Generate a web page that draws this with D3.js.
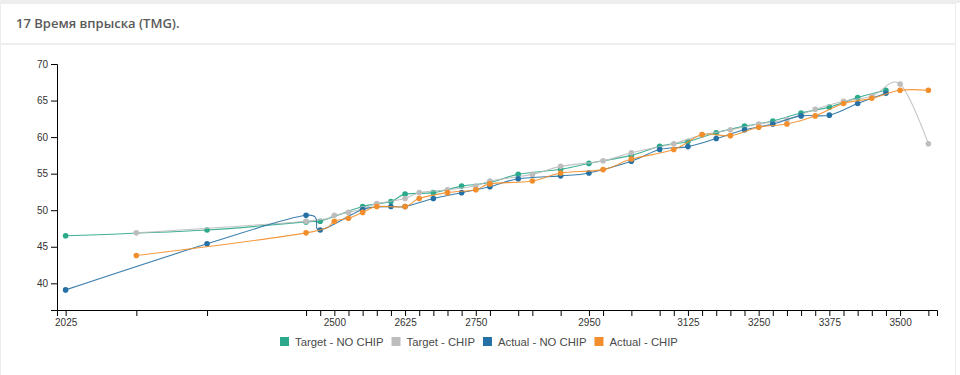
<!DOCTYPE html>
<html>
<head>
<meta charset="utf-8">
<script src="https://cdn.jsdelivr.net/npm/d3@7"></script>
<style>
  body { margin: 0; background: #fff; }
  .axis text { font-family: "Liberation Sans", Arial, sans-serif; font-size: 10px; fill: #333; }
  .axis path, .axis line { stroke: #000; }
</style>
</head>
<body>
<div class="chart"></div>
<script>
(function () {

    // rpm values (x) for each pair of series
    var rpmNoChip = [2025, 2275, 2450, 2475, 2550, 2600, 2625, 2675, 2725, 2775, 2825, 2900,
                     2950, 3025, 3075, 3125, 3175, 3225, 3275, 3325, 3375, 3425, 3475];
    var rpmChip = [2150, 2450, 2500, 2525, 2550, 2575, 2625, 2650, 2700, 2750, 2775, 2850, 2900,
                   2975, 3025, 3100, 3150, 3200, 3250, 3300, 3350, 3400, 3450, 3500, 3550];

    var targetNoChip = [46.5, 47.3, 48.4, 48.5, 50.5, 51.2, 52.2, 52.4, 53.3, 53.8, 54.9, 55.6,
                        56.4, 57.5, 58.75, 59.4, 60.6, 61.5, 62.2, 63.3, 64.1, 65.4, 66.4];
    var actualNoChip = [39.1, 45.4, 49.3, 47.3, 50.1, 50.5, 50.5, 51.6, 52.4, 53.2, 54.3, 54.7,
                        55.1, 56.7, 58.3, 58.7, 59.8, 61.0, 61.8, 62.9, 63.0, 64.6, 66.0];
    var targetChip = [46.9, 48.5, 49.3, 49.7, 50.2, 50.9, 51.6, 52.4, 52.8, 53.3, 54.0, 54.9, 56.0,
                      56.75, 57.85, 59.1, 60.3, 61.0, 61.8, 62.4, 63.8, 64.9, 65.6, 67.25, 59.1];
    var actualChip = [43.8, 46.9, 48.5, 48.9, 49.7, 50.5, 50.5, 51.6, 52.4, 52.8, 53.6, 54.0, 55.1,
                      55.55, 57.0, 58.3, 60.35, 60.2, 61.35, 61.8, 62.9, 64.6, 65.3, 66.4, 66.4];

    var seriesNames = ["Target - NO CHIP", "Target - CHIP", "Actual - NO CHIP", "Actual - CHIP"];
    var xTicks = [2025, 2150, 2275, 2450, 2475, 2500, 2525, 2550, 2575, 2600, 2625, 2650, 2675, 2700,
                  2725, 2750, 2775, 2825, 2850, 2900, 2950, 2975, 3025, 3075, 3100, 3125, 3150, 3175,
                  3200, 3225, 3250, 3275, 3300, 3325, 3350, 3375, 3400, 3425, 3450, 3475, 3500, 3550];
    var yTicks = [40, 45, 50, 55, 60, 65, 70];

    var colors = ["#2aa98b", "#bdbdbd", "#2571a5", "#f28e2b"];

    var series = [
        { name: seriesNames[0], xs: rpmNoChip, ys: targetNoChip },
        { name: seriesNames[1], xs: rpmChip, ys: targetChip },
        { name: seriesNames[2], xs: rpmNoChip, ys: actualNoChip },
        { name: seriesNames[3], xs: rpmChip, ys: actualChip }
    ];
    series.forEach(function (s, i) {
        s.color = colors[i];
        s.points = s.xs.map(function (x, j) { return { x: x, y: s.ys[j] }; });
    });

    var W = 960, H = 375;

    var svg = d3.select(".chart")
      .append("svg")
        .attr("width", W)
        .attr("height", H)
        .style("display", "block");

    // panel frame
    svg.append("rect")
        .attr("x", 0).attr("y", 0)
        .attr("width", W).attr("height", 3)
        .style("fill", "#eeeeee");
    svg.append("rect")
        .attr("x", 0.5).attr("y", 3.5)
        .attr("width", 955).attr("height", 372)
        .style("fill", "#fff")
        .style("stroke", "#ececec");
    svg.append("line")
        .attr("x1", 1).attr("x2", 956)
        .attr("y1", 44).attr("y2", 44)
        .style("stroke", "#eeeeee")
        .style("stroke-width", 2);

    svg.append("text")
        .text("17 Время впрыска (TMG).")
        .attr("x", 16)
        .attr("y", 28)
        .attr("font-family", "'Open Sans', sans-serif")
        .attr("font-size", "13px")
        .attr("font-weight", 600)
        .attr("fill", "#5a5a5a");

    // plot area
    var left = 57, right = 937, top = 64, bottom = 310;

    var allX = rpmNoChip.concat(rpmChip);
    var xMin = d3.min(allX), xMax = d3.max(allX);
    var pad = (xMax - xMin) * 0.01;

    var x = d3.scaleLinear()
        .domain([xMin - pad, xMax + pad])
        .range([left, right]);

    var y = d3.scaleLinear()
        .domain([36.35, 70])
        .range([bottom, top]);

    svg.append("g")
        .attr("class", "axis")
        .attr("transform", "translate(0," + bottom + ")")
        .call(d3.axisBottom(x)
            .tickValues(xTicks)
            .tickFormat(function (d, i) { return i % 5 === 0 ? d : ""; }));

    svg.append("g")
        .attr("class", "axis")
        .attr("transform", "translate(" + left + ",0)")
        .call(d3.axisLeft(y).tickValues(yTicks));

    var line = d3.line()
        .x(function (d) { return x(d.x); })
        .y(function (d) { return y(d.y); })
        .curve(d3.curveCardinal);

    series.forEach(function (s) {
        var g = svg.append("g");
        g.append("path")
            .datum(s.points)
            .attr("d", line)
            .style("fill", "none")
            .style("stroke", s.color)
            .style("stroke-width", 1.1)
            .style("stroke-opacity", 0.9);
        g.selectAll("circle")
            .data(s.points)
            .enter()
            .append("circle")
              .attr("cx", function (d) { return x(d.x); })
              .attr("cy", function (d) { return y(d.y); })
              .attr("r", 2.8)
              .style("fill", s.color);
    });

    // legend
    var legend = svg.append("g");
    var lx = 280;
    series.forEach(function (s) {
        legend.append("rect")
            .attr("x", lx).attr("y", 337)
            .attr("width", 9).attr("height", 9)
            .style("fill", s.color);
        var t = legend.append("text")
            .text(s.name)
            .attr("x", lx + 15)
            .attr("y", 346)
            .attr("font-family", "'Liberation Sans', Arial, sans-serif")
            .attr("font-size", "11.3px")
            .attr("fill", "#4a4a4a");
        lx += 15 + t.node().getComputedTextLength() + 8;
    });

})();
</script>
</body>
</html>
